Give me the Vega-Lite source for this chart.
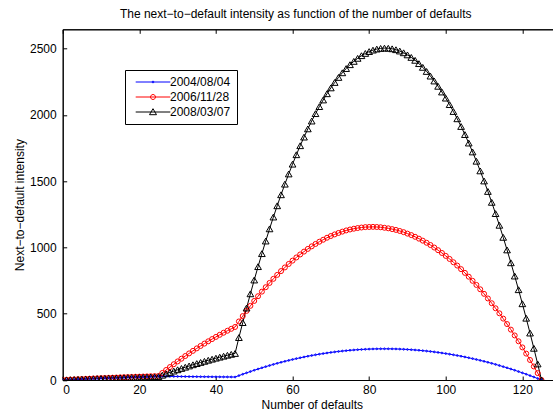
{
"$schema":"https://vega.github.io/schema/vega-lite/v6.json",
"width":491,"height":350.7,
"autosize":{"type":"none"},
"padding":{"left":62.7,"top":29.3,"right":-0.7,"bottom":35},
"background":"white",
"title":{"text":"The next−to−default intensity as function of the number of defaults","fontSize":12,"fontWeight":"normal","font":"Liberation Sans","color":"black","offset":8,"anchor":"middle","dx":-12.5},
"config":{"view":{"stroke":"black","strokeWidth":1},
"axis":{"domainColor":"black","tickColor":"black","labelColor":"black","titleColor":"black","labelFont":"Liberation Sans","titleFont":"Liberation Sans","labelFontSize":12,"titleFontSize":12,"titleFontWeight":"normal","grid":false,"tickSize":-4,"domainWidth":1,"tickWidth":1}},
"data":{"values":[
{"n":0,"d1":0,"d2":0,"d3":0},
{"n":1,"d1":1.4,"d2":1.5,"d3":1.2},
{"n":2,"d1":2.8,"d2":3.0,"d3":2.5},
{"n":3,"d1":4.1,"d2":4.4,"d3":3.7},
{"n":4,"d1":5.4,"d2":5.8,"d3":4.8},
{"n":5,"d1":6.7,"d2":7.2,"d3":6.0},
{"n":6,"d1":8.0,"d2":8.6,"d3":7.1},
{"n":7,"d1":9.3,"d2":9.9,"d3":8.3},
{"n":8,"d1":10.5,"d2":11.2,"d3":9.4},
{"n":9,"d1":11.7,"d2":12.5,"d3":10.4},
{"n":10,"d1":12.9,"d2":13.8,"d3":11.5},
{"n":11,"d1":14.0,"d2":15.0,"d3":12.5},
{"n":12,"d1":15.2,"d2":16.3,"d3":13.6},
{"n":13,"d1":16.3,"d2":17.5,"d3":14.6},
{"n":14,"d1":17.4,"d2":18.6,"d3":15.5},
{"n":15,"d1":18.5,"d2":19.8,"d3":16.5},
{"n":16,"d1":19.5,"d2":20.9,"d3":17.4},
{"n":17,"d1":20.6,"d2":22.0,"d3":18.4},
{"n":18,"d1":21.6,"d2":23.1,"d3":19.3},
{"n":19,"d1":22.6,"d2":24.2,"d3":20.1},
{"n":20,"d1":23.5,"d2":25.2,"d3":21.0},
{"n":21,"d1":24.5,"d2":26.2,"d3":21.8},
{"n":22,"d1":25.4,"d2":27.2,"d3":22.7},
{"n":23,"d1":26.3,"d2":28.2,"d3":23.5},
{"n":24,"d1":27.1,"d2":29.1,"d3":24.2},
{"n":25,"d1":28.0,"d2":30.0,"d3":25.0},
{"n":26,"d1":27.7,"d2":53.0,"d3":35.9},
{"n":27,"d1":27.4,"d2":75.5,"d3":46.6},
{"n":28,"d1":27.2,"d2":97.5,"d3":57.0},
{"n":29,"d1":26.9,"d2":119.0,"d3":67.2},
{"n":30,"d1":26.6,"d2":140.1,"d3":77.2},
{"n":31,"d1":26.3,"d2":160.7,"d3":87.0},
{"n":32,"d1":26.0,"d2":180.9,"d3":96.5},
{"n":33,"d1":25.8,"d2":200.6,"d3":105.8},
{"n":34,"d1":25.5,"d2":219.8,"d3":114.9},
{"n":35,"d1":25.2,"d2":238.5,"d3":123.8},
{"n":36,"d1":24.9,"d2":256.8,"d3":132.4},
{"n":37,"d1":24.6,"d2":274.6,"d3":140.8},
{"n":38,"d1":24.4,"d2":291.9,"d3":149.0},
{"n":39,"d1":24.1,"d2":308.7,"d3":157.0},
{"n":40,"d1":23.8,"d2":325.1,"d3":164.7},
{"n":41,"d1":23.5,"d2":341.0,"d3":172.2},
{"n":42,"d1":23.2,"d2":356.5,"d3":179.5},
{"n":43,"d1":23.0,"d2":371.5,"d3":186.6},
{"n":44,"d1":22.7,"d2":386.0,"d3":193.4},
{"n":45,"d1":22.4,"d2":400,"d3":200},
{"n":46,"d1":33.2,"d2":441.6,"d3":320},
{"n":47,"d1":43.7,"d2":482.0,"d3":433},
{"n":48,"d1":53.9,"d2":521.3,"d3":543},
{"n":49,"d1":63.8,"d2":559.4,"d3":650},
{"n":50,"d1":73.5,"d2":596.3,"d3":754},
{"n":51,"d1":82.9,"d2":632.0,"d3":855},
{"n":52,"d1":92.0,"d2":666.5,"d3":953},
{"n":53,"d1":100.8,"d2":699.8,"d3":1048},
{"n":54,"d1":109.3,"d2":732.0,"d3":1140},
{"n":55,"d1":117.6,"d2":763.0,"d3":1229},
{"n":56,"d1":125.6,"d2":792.8,"d3":1314},
{"n":57,"d1":133.3,"d2":821.4,"d3":1397},
{"n":58,"d1":140.7,"d2":848.9,"d3":1477},
{"n":59,"d1":147.8,"d2":875.2,"d3":1554},
{"n":60,"d1":154.7,"d2":900.3,"d3":1628},
{"n":61,"d1":161.3,"d2":924.2,"d3":1699},
{"n":62,"d1":167.6,"d2":946.9,"d3":1767},
{"n":63,"d1":173.6,"d2":968.4,"d3":1832},
{"n":64,"d1":179.3,"d2":988.8,"d3":1894},
{"n":65,"d1":184.8,"d2":1008,"d3":1953},
{"n":66,"d1":190.0,"d2":1026,"d3":2009},
{"n":67,"d1":194.9,"d2":1043,"d3":2062},
{"n":68,"d1":199.5,"d2":1058,"d3":2112},
{"n":69,"d1":203.8,"d2":1073,"d3":2159},
{"n":70,"d1":207.9,"d2":1086,"d3":2203},
{"n":71,"d1":211.7,"d2":1098,"d3":2244},
{"n":72,"d1":215.2,"d2":1109,"d3":2282},
{"n":73,"d1":218.4,"d2":1119,"d3":2317},
{"n":74,"d1":221.3,"d2":1128,"d3":2349},
{"n":75,"d1":224.0,"d2":1135,"d3":2378},
{"n":76,"d1":226.4,"d2":1141,"d3":2403},
{"n":77,"d1":228.5,"d2":1146,"d3":2426},
{"n":78,"d1":230.3,"d2":1150,"d3":2446},
{"n":79,"d1":231.8,"d2":1153,"d3":2463},
{"n":80,"d1":233.1,"d2":1154,"d3":2477},
{"n":81,"d1":234.1,"d2":1155,"d3":2488},
{"n":82,"d1":234.8,"d2":1154,"d3":2496},
{"n":83,"d1":235.2,"d2":1152,"d3":2501},
{"n":84,"d1":235.3,"d2":1148,"d3":2503},
{"n":85,"d1":235.2,"d2":1144,"d3":2502},
{"n":86,"d1":234.8,"d2":1138,"d3":2498},
{"n":87,"d1":234.1,"d2":1132,"d3":2491},
{"n":88,"d1":233.1,"d2":1124,"d3":2481},
{"n":89,"d1":231.8,"d2":1115,"d3":2468},
{"n":90,"d1":230.3,"d2":1104,"d3":2452},
{"n":91,"d1":228.5,"d2":1093,"d3":2433},
{"n":92,"d1":226.4,"d2":1080,"d3":2411},
{"n":93,"d1":224.0,"d2":1066,"d3":2386},
{"n":94,"d1":221.3,"d2":1051,"d3":2358},
{"n":95,"d1":218.4,"d2":1035,"d3":2327},
{"n":96,"d1":215.2,"d2":1018,"d3":2292},
{"n":97,"d1":211.7,"d2":999,"d3":2255},
{"n":98,"d1":207.9,"d2":979,"d3":2215},
{"n":99,"d1":203.8,"d2":958,"d3":2172},
{"n":100,"d1":199.5,"d2":936,"d3":2126},
{"n":101,"d1":194.9,"d2":913,"d3":2077},
{"n":102,"d1":190.0,"d2":888,"d3":2025},
{"n":103,"d1":184.8,"d2":863,"d3":1970},
{"n":104,"d1":179.3,"d2":836,"d3":1912},
{"n":105,"d1":173.6,"d2":808,"d3":1851},
{"n":106,"d1":167.6,"d2":779,"d3":1787},
{"n":107,"d1":161.3,"d2":748,"d3":1720},
{"n":108,"d1":154.7,"d2":717,"d3":1650},
{"n":109,"d1":147.8,"d2":684,"d3":1577},
{"n":110,"d1":140.7,"d2":650,"d3":1501},
{"n":111,"d1":133.3,"d2":615,"d3":1422},
{"n":112,"d1":125.6,"d2":579,"d3":1340},
{"n":113,"d1":117.6,"d2":541,"d3":1255},
{"n":114,"d1":109.3,"d2":503,"d3":1167},
{"n":115,"d1":100.8,"d2":463,"d3":1076},
{"n":116,"d1":92.0,"d2":422,"d3":981},
{"n":117,"d1":82.9,"d2":380,"d3":884},
{"n":118,"d1":73.5,"d2":336,"d3":784},
{"n":119,"d1":63.8,"d2":292,"d3":681},
{"n":120,"d1":53.9,"d2":246,"d3":575},
{"n":121,"d1":43.7,"d2":199,"d3":466},
{"n":122,"d1":33.2,"d2":151,"d3":354},
{"n":123,"d1":22.4,"d2":102,"d3":239},
{"n":124,"d1":11.3,"d2":52,"d3":121},
{"n":125,"d1":0,"d2":0,"d3":0}
]},
"transform":[{"fold":["d1","d2","d3"],"as":["series","v"]}],
"layer":[
{"mark":{"type":"line","strokeWidth":1,"clip":true},
 "encoding":{
  "x":{"field":"n","type":"quantitative","scale":{"domain":[0,128.18],"nice":false,"zero":false},
       "axis":{"orient":"bottom","values":[0,20,40,60,80,100,120],"format":"d","title":"Number of defaults","labelPadding":8,"titlePadding":4,"titleX":249.1}},
  "y":{"field":"v","type":"quantitative","scale":{"domain":[0,2645],"nice":false},
       "axis":{"orient":"left","values":[0,500,1000,1500,2000,2500],"format":"d","title":"Next−to−default intensity","labelPadding":10.5,"titlePadding":3.5}},
  "color":{"field":"series","type":"nominal",
       "scale":{"domain":["d1","d2","d3"],"range":["#0000ff","#ff0000","#000000"]},
       "legend":{"orient":"none","legendX":62.3,"legendY":40.7,"title":null,"padding":6,
         "strokeColor":"black","fillColor":"white","cornerRadius":0,
         "labelFont":"Liberation Sans","labelFontSize":12,"labelColor":"black",
         "labelExpr":"datum.value == 'd1' ? '2004/08/04' : datum.value == 'd2' ? '2006/11/28' : '2008/03/07'",
         "symbolSize":36,"symbolOffset":16,"labelOffset":11,"rowPadding":3,
         "encode":{"symbols":{"update":{
           "shape":{"signal":"datum.value == 'd1' ? 'M-5.77,0L5.77,0M0.3,0A0.3,0.3,0,1,1,-0.3,0A0.3,0.3,0,1,1,0.3,0' : datum.value == 'd2' ? 'M-5.77,0L5.77,0M0.83,0A0.83,0.83,0,1,1,-0.83,0A0.83,0.83,0,1,1,0.83,0' : 'M-5.77,0L5.77,0M0,-1.1L-1.17,0.9L1.17,0.9Z'"},
           "fill":{"value":"transparent"},
           "size":{"value":36},
           "strokeWidth":{"value":1},
           "opacity":{"value":1}}}}}}
 }},
{"transform":[{"filter":"datum.series == 'd1'"}],
 "mark":{"type":"point","shape":"circle","size":3,"filled":false,"color":"#0000ff","strokeWidth":1,"opacity":1,"clip":true},
 "encoding":{
  "x":{"field":"n","type":"quantitative","scale":{"domain":[0,128.18],"nice":false,"zero":false},"axis":null},
  "y":{"field":"v","type":"quantitative"}}},
{"transform":[{"filter":"datum.series == 'd2'"}],
 "mark":{"type":"point","shape":"circle","size":25,"filled":false,"color":"#ff0000","strokeWidth":1,"opacity":1,"clip":true},
 "encoding":{
  "x":{"field":"n","type":"quantitative","scale":{"domain":[0,128.18],"nice":false,"zero":false},"axis":null},
  "y":{"field":"v","type":"quantitative"}}},
{"transform":[{"filter":"datum.series == 'd3'"}],
 "mark":{"type":"point","shape":"triangle-up","size":45,"filled":false,"color":"#000000","strokeWidth":1,"opacity":1,"clip":true},
 "encoding":{
  "x":{"field":"n","type":"quantitative","scale":{"domain":[0,128.18],"nice":false,"zero":false},
       "axis":{"orient":"top","values":[0,20,40,60,80,100,120],"labels":false,"title":null}},
  "y":{"field":"v","type":"quantitative"}}}
],
"resolve":{"axis":{"x":"independent"}}
}
